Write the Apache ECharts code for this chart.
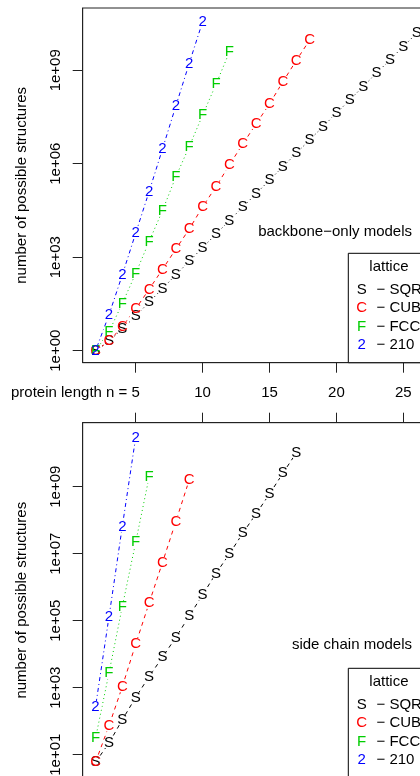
<!DOCTYPE html>
<html>
<head>
<meta charset="utf-8">
<script src="https://cdn.jsdelivr.net/npm/echarts@6/dist/echarts.min.js"></script>
<style>
  html, body { margin: 0; padding: 0; background: #fff; }
  #myChart { width: 420px; height: 776px; }
</style>
</head>
<body>
<div id="myChart"></div>
<script>
// protein length n, every series starts at n = 2
const proteinLength = [2, 3, 4, 5, 6, 7, 8, 9, 10, 11, 12, 13, 14, 15, 16, 17, 18, 19, 20, 21, 22, 23, 24, 25, 26]

const latticeNames = ['SQR', 'CUB', 'FCC', '210']
const latticeSymbols = ['S', 'C', 'F', '2']
const latticeColors = ['#000000', '#ff0000', '#00cd00', '#0000ff']

// backbone-only models (number of possible structures)
const backboneSQR = [1, 2, 5, 13, 36, 98, 272, 740, 2030, 5510, 15000, 40600, 110000, 297000, 802000,
  2160000, 5810000, 15600000, 41900000, 112000000, 301000000, 806000000, 2160000000, 5770000000, 15400000000]
const backboneCUB = [1, 2, 6, 22, 93, 407, 1820, 7940, 41700, 182000, 912000, 4270000, 19000000, 83000000,
  427000000, 2040000000, 9300000000]
const backboneFCC = [1, 4, 33, 300, 3180, 31000, 380000, 3550000, 36000000, 355000000, 3800000000]
const backbone210 = [1, 14, 270, 5900, 126000, 2950000, 71000000, 1660000000, 36000000000]

// side chain models
const sideSQR = [6, 22, 110, 513, 2140, 8130, 31600, 138000, 589000, 2570000, 9770000, 40700000, 155000000,
  603000000, 2510000000, 10200000000]
const sideCUB = [6, 72, 1070, 20000, 330000, 5400000, 91000000, 1580000000]
const sideFCC = [31, 2700, 263000, 21900000, 1900000000]
const side210 = [270, 126000, 65000000, 29500000000]

// ticks
const xTicks = [5, 10, 15, 20, 25]
const topYTicks = [1, 1e3, 1e6, 1e9]
const bottomYTicks = [1e1, 1e3, 1e5, 1e7, 1e9]

const font = '"Liberation Sans", Arial, Helvetica, sans-serif'
const axisColor = '#222'

function sciLabel (v) {
  let e = Math.round(Math.log10(v))
  return '1e+' + (e < 10 ? '0' + e : '' + e)
}

function makeSeries (values, k, gi, dash, lines, labels) {
  let data = values.map((v, i) => [proteinLength[i], v])
  lines.push({
    type: 'line',
    xAxisIndex: gi,
    yAxisIndex: gi,
    data: data,
    symbol: 'circle',
    symbolSize: 12,
    showAllSymbol: true,
    itemStyle: { color: '#ffffff', borderWidth: 0 },
    lineStyle: { color: latticeColors[k], width: 1, type: dash },
    emphasis: { disabled: true },
    silent: true,
    z: 2
  })
  labels.push({
    type: 'scatter',
    xAxisIndex: gi,
    yAxisIndex: gi,
    data: data,
    symbolSize: 1,
    itemStyle: { color: 'rgba(0,0,0,0)' },
    label: {
      show: true,
      position: 'inside',
      formatter: latticeSymbols[k],
      color: latticeColors[k],
      opacity: 1,
      fontSize: 15,
      fontFamily: font
    },
    emphasis: { disabled: true },
    silent: true,
    z: 3
  })
}

let lines = []
let labels = []
let dots = [1, 3]
let dashes = [4, 4]
let dotdash = [1, 3, 4, 3]
makeSeries(backboneSQR, 0, 0, dots, lines, labels)
makeSeries(backboneCUB, 1, 0, dashes, lines, labels)
makeSeries(backboneFCC, 2, 0, dots, lines, labels)
makeSeries(backbone210, 3, 0, dotdash, lines, labels)
makeSeries(sideSQR, 0, 1, dashes, lines, labels)
makeSeries(sideCUB, 1, 1, dashes, lines, labels)
makeSeries(sideFCC, 2, 1, dots, lines, labels)
makeSeries(side210, 3, 1, dotdash, lines, labels)

function xAxisFor (gi, pos, showLabels) {
  return {
    type: 'value',
    gridIndex: gi,
    position: pos,
    min: 1.04,
    max: 26.96,
    axisLine: { show: true, onZero: false, lineStyle: { color: axisColor, width: 1 } },
    axisTick: { show: true, length: 10, customValues: xTicks, lineStyle: { color: axisColor } },
    axisLabel: { show: showLabels, customValues: xTicks, margin: 23, fontSize: 15, color: '#000', fontFamily: font },
    splitLine: { show: false }
  }
}

function yAxisFor (gi, lo, hi, ticks, gap) {
  return {
    type: 'log',
    logBase: 10,
    gridIndex: gi,
    min: Math.pow(10, lo),
    max: Math.pow(10, hi),
    axisLine: { show: true, lineStyle: { color: axisColor, width: 1 } },
    axisTick: { show: true, length: 10, customValues: ticks, lineStyle: { color: axisColor } },
    axisLabel: { customValues: ticks, rotate: 90, margin: 19, fontSize: 15, color: '#000', fontFamily: font, formatter: sciLabel },
    minorTick: { show: false },
    splitLine: { show: false },
    name: 'number of possible structures',
    nameLocation: 'middle',
    nameGap: gap,
    nameTextStyle: { fontSize: 15, color: '#000', fontFamily: font }
  }
}

function legendBox (top, height) {
  let els = [{
    type: 'rect',
    shape: { x: 348.3, y: top, width: 120, height: height },
    style: { fill: '#fff', stroke: '#000', lineWidth: 1 },
    z: 10
  }, {
    type: 'text',
    x: 369.3,
    y: top + 13.7,
    style: { text: 'lattice', font: '15px ' + font, fill: '#000', align: 'left', verticalAlign: 'middle' },
    z: 11
  }]
  latticeNames.forEach((name, k) => {
    els.push({
      type: 'text',
      x: 361.7,
      y: top + 36.7 + k * 18.35,
      style: { text: latticeSymbols[k], font: '15px ' + font, fill: latticeColors[k], align: 'center', verticalAlign: 'middle' },
      z: 11
    })
    els.push({
      type: 'text',
      x: 376.5,
      y: top + 36.7 + k * 18.35,
      style: { text: '\u2212 ' + name, font: '15px ' + font, fill: '#000', align: 'left', verticalAlign: 'middle' },
      z: 11
    })
  })
  return els
}

let myChart = echarts.init(document.getElementById('myChart'))
let option = {
  animation: false,
  textStyle: { fontFamily: font },
  grid: [
    { left: 82.7, top: 8, right: -9.5, height: 354.7, show: true, borderColor: axisColor, borderWidth: 1, containLabel: false, outerBoundsMode: 'none' },
    { left: 82.7, top: 422.7, right: -9.5, height: 355, show: true, borderColor: axisColor, borderWidth: 1, containLabel: false, outerBoundsMode: 'none' }
  ],
  xAxis: [xAxisFor(0, 'bottom', true), xAxisFor(1, 'top', false)],
  yAxis: [yAxisFor(0, -0.385, 10.998, topYTicks, 53), yAxisFor(1, 0.313, 10.91, bottomYTicks, 53)],
  graphic: [
    {
      type: 'text',
      x: 131.5,
      y: 393,
      style: { text: 'protein length n = ', font: '15px ' + font, fill: '#000', align: 'right', verticalAlign: 'middle' }
    },
    {
      type: 'text',
      x: 412,
      y: 232,
      style: { text: 'backbone\u2212only models', font: '15px ' + font, fill: '#000', align: 'right', verticalAlign: 'middle' }
    },
    {
      type: 'text',
      x: 412,
      y: 645,
      style: { text: 'side chain models', font: '15px ' + font, fill: '#000', align: 'right', verticalAlign: 'middle' }
    }
  ].concat(legendBox(253.3, 109.4), legendBox(668.3, 140)),
  series: lines.concat(labels)
}
myChart.setOption(option, true)
</script>
</body>
</html>
